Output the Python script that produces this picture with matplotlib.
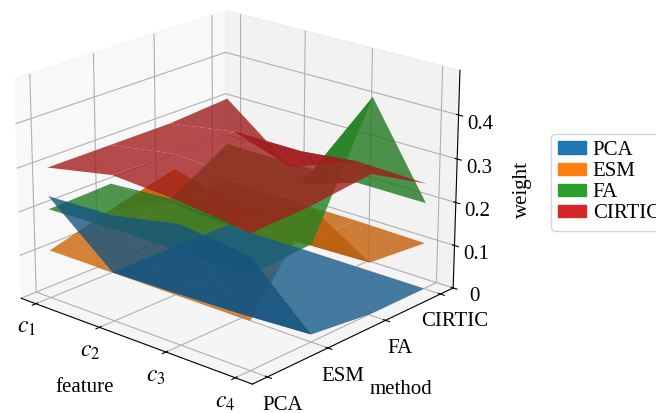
import numpy as np
import matplotlib
matplotlib.use("Agg")
import matplotlib.pyplot as plt
from matplotlib.patches import Patch

plt.rcParams['font.family'] = ['Liberation Serif', 'DejaVu Serif']
plt.rcParams['mathtext.fontset'] = 'stix'

features = ['$c_1$', '$c_2$', '$c_3$', '$c_4$']
methods = ['PCA', 'ESM', 'FA', 'CIRTIC']
z_ticks = [0, 0.1, 0.2, 0.3, 0.4]

# rows are methods, columns are features
pca = [[0.235, 0.240, 0.270, 0.250],
       [0.000, 0.003, 0.008, 0.017],
       [0.000, 0.000, 0.000, 0.000],
       [0.000, 0.000, 0.000, 0.000]]
esm = [[0.110, 0.110, 0.110, 0.110],
       [0.150, 0.290, 0.250, 0.300],
       [0.110, 0.110, 0.115, 0.120],
       [0.110, 0.110, 0.110, 0.107]]
fa = [[0.205, 0.210, 0.210, 0.210],
      [0.210, 0.210, 0.210, 0.220],
      [0.120, 0.100, 0.250, 0.490],
      [0.200, 0.200, 0.200, 0.200]]
cirtic = [[0.300, 0.330, 0.320, 0.300],
          [0.300, 0.325, 0.315, 0.305],
          [0.300, 0.325, 0.325, 0.320],
          [0.310, 0.190, 0.250, 0.245]]

fig = plt.figure(figsize=(6.56, 4.13), dpi=100)
ax = fig.add_axes([-0.122, -0.05, 0.95, 1.17], projection='3d')

X, Y = np.meshgrid(np.arange(4), np.arange(4))
surfaces = [pca, esm, fa, cirtic]
colors = ['C0', 'C1', 'C2', 'C3']
for s, c in zip(surfaces, colors):
    ax.plot_surface(X, Y, np.array(s), color=c, alpha=0.8, rstride=1, cstride=1)

ax.view_init(elev=20.5, azim=-48.5)
ax.set_xlim(-0.24, 3.24)
ax.set_ylim(-0.24, 3.24)
ax.set_zlim(0, 0.5)

ax.set_xticks(range(4))
ax.set_xticklabels(features, fontsize=17)
ax.set_yticks(range(4))
ax.set_yticklabels(methods, fontsize=15)
ax.set_zticks(z_ticks)
ax.set_zticklabels(['0', '0.1', '0.2', '0.3', '0.4'], fontsize=15)
ax.tick_params(axis='x', pad=0)
ax.tick_params(axis='y', pad=3)
ax.tick_params(axis='z', pad=1)

fig.text(85 / 656, 1 - 387 / 413, 'feature', fontsize=15, ha='center', va='center')
fig.text(401 / 656, 1 - 389 / 413, 'method', fontsize=15, ha='center', va='center')
fig.text(522 / 656, 1 - 190 / 413, 'weight', fontsize=15, ha='center', va='center', rotation=90)

handles = [Patch(facecolor=c, edgecolor=c, label=m) for c, m in zip(colors, methods)]
fig.legend(handles=handles, loc='upper left', bbox_to_anchor=(0.84, 0.676), fontsize=15,
           labelspacing=0.1, handlelength=1.35, handleheight=0.55, handletextpad=0.3,
           borderpad=0.35, borderaxespad=0)

fig.savefig('out.png', dpi=100)
